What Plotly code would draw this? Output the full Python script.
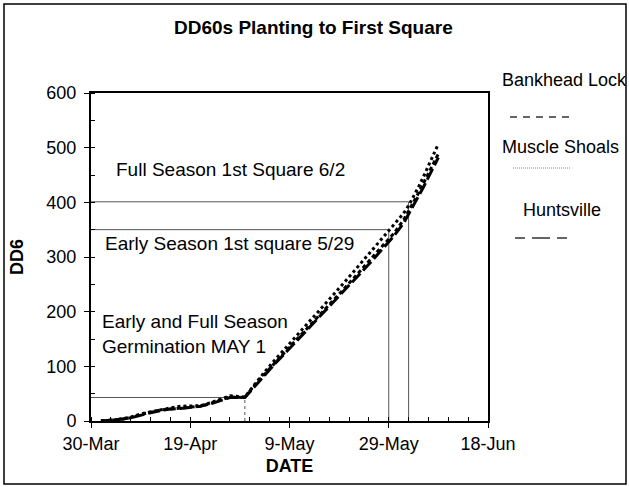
import plotly.graph_objects as go

# ---- data ----
dates = ["2001-04-01", "2001-04-03", "2001-04-05", "2001-04-07", "2001-04-09", "2001-04-11",
         "2001-04-13", "2001-04-15", "2001-04-17", "2001-04-19", "2001-04-21", "2001-04-23",
         "2001-04-25", "2001-04-27", "2001-04-30", "2001-05-02", "2001-05-04", "2001-05-06",
         "2001-05-08", "2001-05-10", "2001-05-12", "2001-05-14", "2001-05-16", "2001-05-18",
         "2001-05-20", "2001-05-22", "2001-05-24", "2001-05-26", "2001-05-28", "2001-05-30",
         "2001-06-01", "2001-06-02", "2001-06-03", "2001-06-04", "2001-06-05", "2001-06-06",
         "2001-06-07", "2001-06-08"]

bankhead_lock = [0, 1, 3, 6, 12, 16, 20, 22, 24, 26, 27, 32, 38, 44, 43, 66, 86, 106, 126, 145,
                 164, 183, 202, 222, 242, 262, 282, 302, 323, 343, 368, 384, 400, 417, 435, 453,
                 471, 489]
muscle_shoals = [0, 1, 4, 7, 13, 17, 21, 24, 27, 28, 28, 33, 40, 46, 44, 68, 90, 111, 132, 152,
                 172, 192, 212, 232, 253, 274, 295, 316, 337, 357, 380, 394, 410, 428, 447, 467,
                 487, 507]
huntsville = [0, 1, 3, 6, 11, 15, 19, 22, 23, 25, 27, 31, 37, 43, 43, 64, 84, 104, 123, 142,
              161, 180, 199, 218, 238, 258, 277, 297, 318, 338, 362, 378, 394, 410, 428, 446,
              464, 482]

series_names = ["Bankhead Lock", "Muscle Shoals", "Huntsville"]

x_start = "2001-03-30"
x_end = "2001-06-18"
x_tick_dates = ["2001-03-30", "2001-04-19", "2001-05-09", "2001-05-29", "2001-06-18"]
x_tick_labels = ["30-Mar", "19-Apr", "9-May", "29-May", "18-Jun"]
y_tick_vals = [0, 100, 200, 300, 400, 500, 600]

# reference markers
germination_date = "2001-04-30"
germination_dd = 43
early_square_date = "2001-05-29"
early_square_dd = 350
full_square_date = "2001-06-02"
full_square_dd = 401

FONT = "Arial, 'Liberation Sans', sans-serif"

fig = go.Figure()

ref_color = "#555555"
for d, v, dash in [(germination_date, germination_dd, "dot"),
                   (early_square_date, early_square_dd, "solid"),
                   (full_square_date, full_square_dd, "solid")]:
    fig.add_trace(go.Scatter(x=[x_start, d], y=[v, v], mode="lines",
                             line=dict(color=ref_color, width=1), showlegend=False,
                             hoverinfo="skip"))
    fig.add_trace(go.Scatter(x=[d, d], y=[0, v], mode="lines",
                             line=dict(color=ref_color, width=1, dash=dash), showlegend=False,
                             hoverinfo="skip"))

styles = {
    "Bankhead Lock": "4px,3px",
    "Muscle Shoals": "dot",
    "Huntsville": "12px,4px",
}
for name, vals in zip(series_names, [bankhead_lock, muscle_shoals, huntsville]):
    fig.add_trace(go.Scatter(x=dates, y=vals, mode="lines", name=name,
                             line=dict(color="black", width=3, dash=styles[name]),
                             showlegend=False))

# ---- layout geometry ----
W, H = 629, 487
L, R, T, B = 91, 141, 93, 66
pw, ph = W - L - R, H - T - B


def px(xp):
    return (xp - L) / pw


def py(yp):
    return (H - B - yp) / ph


shapes = [
    # outer border
    dict(type="rect", xref="paper", yref="paper", x0=px(4), x1=px(626), y0=py(484), y1=py(4),
         line=dict(color="black", width=1.5)),
    # legend samples
    dict(type="line", xref="paper", yref="paper", x0=px(510), x1=px(572), y0=py(117), y1=py(117),
         line=dict(color="#333333", width=1.3, dash="7px,6px")),
    dict(type="line", xref="paper", yref="paper", x0=px(513), x1=px(571), y0=py(168), y1=py(168),
         line=dict(color="#888888", width=1, dash="1px,1px")),
    dict(type="line", xref="paper", yref="paper", x0=px(515), x1=px(572), y0=py(238), y1=py(238),
         line=dict(color="#333333", width=1.3, dash="10px,7px,18px,7px")),
]

txt = dict(family=FONT, size=18, color="black")
ann = dict(family=FONT, size=19, color="black")
annotations = [
    dict(text="<b>DD60s Planting to First Square</b>", xref="paper", yref="paper",
         x=px(313), y=py(27), showarrow=False, font=dict(family=FONT, size=19, color="black"),
         xanchor="center", yanchor="middle"),
    dict(text="Full Season 1st Square 6/2", xref="paper", yref="paper", x=px(114), y=py(169),
         showarrow=False, font=ann, xanchor="left", yanchor="middle"),
    dict(text="Early Season 1st square 5/29", xref="paper", yref="paper", x=px(103), y=py(243),
         showarrow=False, font=ann, xanchor="left", yanchor="middle"),
    dict(text="Early and Full Season<br>Germination MAY 1", xref="paper", yref="paper",
         x=px(100), y=py(334), showarrow=False, font=ann, xanchor="left", yanchor="middle",
         align="left"),
    dict(text="Bankhead Lock", xref="paper", yref="paper", x=px(500), y=py(80),
         showarrow=False, font=txt, xanchor="left", yanchor="middle"),
    dict(text="Muscle Shoals", xref="paper", yref="paper", x=px(500), y=py(147),
         showarrow=False, font=txt, xanchor="left", yanchor="middle"),
    dict(text="Huntsville", xref="paper", yref="paper", x=px(521), y=py(210),
         showarrow=False, font=txt, xanchor="left", yanchor="middle"),
]

fig.update_layout(
    width=W, height=H,
    margin=dict(l=L, r=R, t=T, b=B, pad=0),
    paper_bgcolor="white", plot_bgcolor="white",
    font=txt,
    showlegend=False,
    shapes=shapes,
    annotations=annotations,
    xaxis=dict(
        type="date", range=[x_start, x_end],
        tickmode="array", tickvals=x_tick_dates, ticktext=x_tick_labels,
        ticks="outside", ticklen=5, tickcolor="black", tickwidth=1,
        showline=True, linecolor="black", linewidth=2, mirror=True,
        showgrid=False, zeroline=False,
        tickfont=txt,
        minor=dict(ticks="inside", ticklen=4, dtick=4 * 86400000, tick0=x_start,
                   tickcolor="black", showgrid=False),
        title=dict(text="<b>DATE</b>", font=txt, standoff=7),
    ),
    yaxis=dict(
        range=[0, 600], tickmode="array", tickvals=y_tick_vals,
        ticks="outside", ticklen=5, tickcolor="black", tickwidth=1,
        showline=True, linecolor="black", linewidth=2, mirror=True,
        showgrid=False, zeroline=False,
        tickfont=txt, ticklabelstandoff=4,
        minor=dict(ticks="inside", ticklen=4, dtick=50, tickcolor="black", showgrid=False),
        title=dict(text="<b>DD6</b>", font=txt, standoff=18),
    ),
)

fig.write_html("out.html",
               config={"displayModeBar": False, "staticPlot": True},
               post_script="document.body.style.margin='0';document.body.style.overflow='hidden';")
